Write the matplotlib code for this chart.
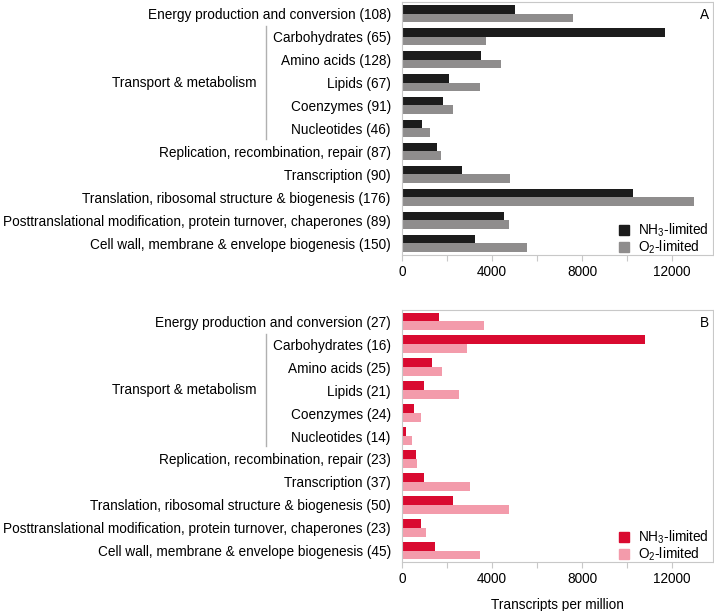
import numpy as np
import matplotlib
matplotlib.use("Agg")
import matplotlib.pyplot as plt
from matplotlib.patches import Patch
from matplotlib.transforms import blended_transform_factory

plt.rcParams['font.family'] = ['Liberation Sans', 'DejaVu Sans']
plt.rcParams['mathtext.fontset'] = 'custom'
plt.rcParams['mathtext.rm'] = 'Liberation Sans'
plt.rcParams['mathtext.it'] = 'Liberation Sans'

# categories (name, gene count per panel)
names = ["Energy production and conversion", "Carbohydrates", "Amino acids",
         "Lipids", "Coenzymes", "Nucleotides",
         "Replication, recombination, repair", "Transcription",
         "Translation, ribosomal structure & biogenesis",
         "Posttranslational modification, protein turnover, chaperones",
         "Cell wall, membrane & envelope biogenesis"]
counts_a = [108, 65, 128, 67, 91, 46, 87, 90, 176, 89, 150]
counts_b = [27, 16, 25, 21, 24, 14, 23, 37, 50, 23, 45]

# transcripts per million
nh3_a = [5000, 11700, 3500, 2070, 1840, 870, 1560, 2650, 10250, 4550, 3260]
o2_a = [7600, 3720, 4390, 3480, 2280, 1240, 1720, 4800, 12960, 4770, 5570]
nh3_b = [1660, 10800, 1340, 1000, 540, 190, 630, 1000, 2250, 850, 1480]
o2_b = [3630, 2870, 1780, 2520, 840, 450, 670, 3040, 4750, 1060, 3480]

panels = [
    ("A", counts_a, nh3_a, o2_a, "#1c1c1c", "#8f8d8d", [0.563, 0.5827, 0.4356, 0.414]),
    ("B", counts_b, nh3_b, o2_b, "#d90a30", "#f39bab", [0.563, 0.0802, 0.4356, 0.4124]),
]

fig = plt.figure(figsize=(7.14, 6.11), dpi=100)
fs = 9.8
spine_c = "#c8c8c8"

for letter, counts, nh3, o2, c1, c2, pos in panels:
    ax = fig.add_axes(pos)
    y = np.arange(len(names))
    h = 0.39
    ax.barh(y - h / 2, nh3, height=h, color=c1)
    ax.barh(y + h / 2, o2, height=h, color=c2)
    ax.set_ylim(len(names) - 0.5, -0.5)
    ax.set_xlim(0, 13820)
    ax.set_yticks(y)
    ax.set_yticklabels([f"{n} ({c})" for n, c in zip(names, counts)], fontsize=fs)
    ax.tick_params(axis='y', length=0, pad=8)
    ax.set_xticks(np.arange(0, 14000, 2000))
    ax.set_xticklabels([str(v) if v % 4000 == 0 else "" for v in range(0, 14000, 2000)],
                       fontsize=fs)
    ax.tick_params(axis='x', length=4, color=spine_c, pad=3)
    for s in ax.spines.values():
        s.set_color(spine_c)
        s.set_linewidth(0.8)
    ax.text(0.988, 0.975, letter, transform=ax.transAxes, ha='right', va='top', fontsize=fs)

    # group label and bracket for transport & metabolism
    tr = blended_transform_factory(fig.transFigure, ax.transData)
    ax.text(257 / 714, 3, "Transport & metabolism", transform=tr, ha='right', va='center',
            fontsize=fs)
    ax.plot([266 / 714, 266 / 714], [0.55, 5.45], transform=tr, color="#b0b0b0", lw=1,
            clip_on=False)

    handles = [Patch(color=c1, label=r"NH$_3$-limited"), Patch(color=c2, label=r"O$_2$-limited")]
    ax.legend(handles=handles, loc='lower right', bbox_to_anchor=(1.0, -0.022), frameon=False,
              fontsize=fs, handlelength=0.75, handleheight=0.75, handletextpad=0.7,
              labelspacing=0.02, borderaxespad=0.1, borderpad=0.2)
    if letter == "B":
        ax.set_xlabel("Transcripts per million", fontsize=fs, labelpad=9)

fig.savefig("out.png", dpi=100)
